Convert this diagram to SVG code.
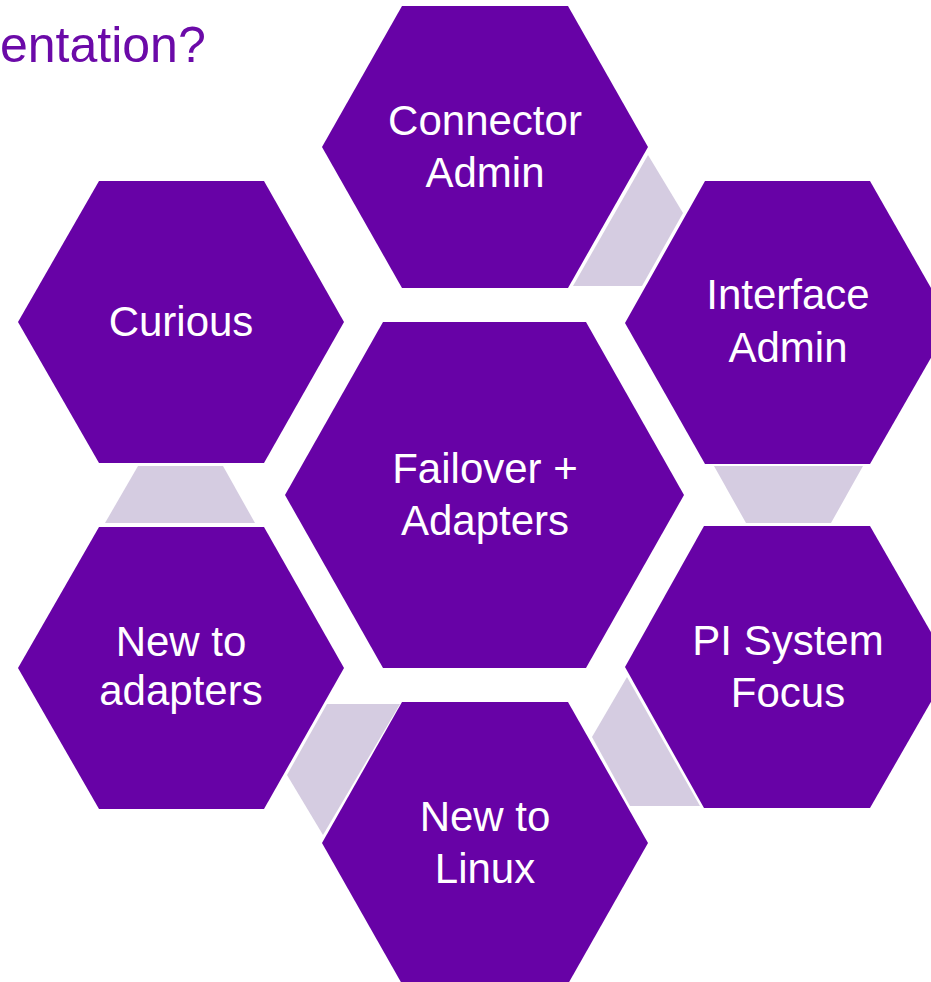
<svg xmlns="http://www.w3.org/2000/svg" width="931" height="982" viewBox="0 0 931 982">
<style>
.hex{fill:#6702A6}
.con{fill:#D5CCE1}
.lbl{font-family:"Liberation Sans",Arial,sans-serif;font-size:42px;fill:#FFFFFF;text-anchor:middle}
.title{font-family:"Liberation Sans",Arial,sans-serif;font-size:50px;fill:#6B0AA8}
</style>
<rect width="931" height="982" fill="#FFFFFF"/>
<text class="title" x="0" y="62">entation?</text>
<g id="connectors">
<polygon class="con" points="648,155 683,213 642,286 573,286"/>
<polygon class="con" points="714,466 863,466 831,523 746,523"/>
<polygon class="con" points="627,677 700,806 630,806 592,737"/>
<polygon class="con" points="327,704 400,704 323,835 287,775"/>
<polygon class="con" points="138,466 223,466 255,523 105,523"/>
</g>
<g id="node-center">
<polygon class="hex" points="383,322 586,322 684,495 586,668 383,668 285,495"/>
<text class="lbl" x="485" y="483">Failover +</text>
<text class="lbl" x="485" y="535">Adapters</text>
</g>
<g id="node-connector-admin">
<polygon class="hex" points="402,6 568,6 648,147 568,288 402,288 322,147"/>
<text class="lbl" x="485" y="135">Connector</text>
<text class="lbl" x="485" y="187">Admin</text>
</g>
<g id="node-interface-admin">
<polygon class="hex" points="705,181 870,181 951,323 870,464 705,464 625,323"/>
<text class="lbl" x="788" y="309">Interface</text>
<text class="lbl" x="788" y="362">Admin</text>
</g>
<g id="node-pi-system-focus">
<polygon class="hex" points="704,526 870,526 951,667 870,808 704,808 625,667"/>
<text class="lbl" x="788" y="655">PI System</text>
<text class="lbl" x="788" y="707">Focus</text>
</g>
<g id="node-new-to-linux">
<polygon class="hex" points="402,702 568,702 648,843 568,984 402,984 322,843"/>
<text class="lbl" x="485" y="831">New to</text>
<text class="lbl" x="485" y="883">Linux</text>
</g>
<g id="node-new-to-adapters">
<polygon class="hex" points="99,527 264,527 344,668 264,809 99,809 18,668"/>
<text class="lbl" x="181" y="656">New to</text>
<text class="lbl" x="181" y="705">adapters</text>
</g>
<g id="node-curious">
<polygon class="hex" points="99,181 264,181 344,322 264,463 99,463 18,322"/>
<text class="lbl" x="181" y="336">Curious</text>
</g>
</svg>
